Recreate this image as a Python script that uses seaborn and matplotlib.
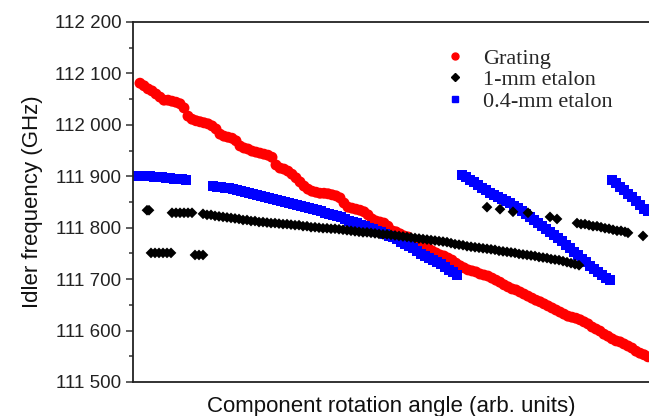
import numpy as np
import pandas as pd
import matplotlib
matplotlib.use("Agg")
import matplotlib.pyplot as plt
from matplotlib.lines import Line2D
from matplotlib.ticker import MultipleLocator, FuncFormatter
import seaborn as sns

# --- data (x: rotation angle, arb. units; y: GHz) ---
# grating: one dense scan, 4-unit steps starting at 7
grating_x = np.arange(7, 516, 4)
grating_y = [112081, 112076, 112070, 112066, 112060, 112054, 112048, 112048,
             112046, 112044, 112041, 112033, 112017, 112011, 112008, 112006,
             112004, 112002, 111998, 111992, 111982, 111978, 111976, 111974,
             111969, 111959, 111955, 111953, 111949, 111947, 111945, 111943,
             111941, 111937, 111922, 111916, 111914, 111910, 111904, 111897,
             111889, 111881, 111875, 111871, 111869, 111867, 111867, 111866,
             111864, 111862, 111858, 111848, 111840, 111838, 111836, 111834,
             111831, 111825, 111817, 111813, 111811, 111809, 111803, 111794,
             111792, 111788, 111784, 111782, 111776, 111772, 111766, 111764,
             111761, 111755, 111751, 111747, 111745, 111741, 111737, 111731,
             111726, 111722, 111718, 111716, 111714, 111710, 111708, 111706,
             111702, 111698, 111694, 111689, 111685, 111681, 111679, 111675,
             111671, 111667, 111663, 111659, 111656, 111652, 111648, 111644,
             111640, 111636, 111632, 111628, 111626, 111624, 111621, 111617,
             111613, 111607, 111603, 111599, 111593, 111589, 111584, 111580,
             111578, 111574, 111570, 111566, 111560, 111556, 111553, 111549]

# 0.4-mm etalon: four mode-hop segments
etalon04_x1 = np.arange(1, 56, 4)
etalon04_y1 = [111901, 111901, 111901, 111901, 111901, 111899, 111899,
               111899, 111897, 111897, 111895, 111895, 111895, 111893]
etalon04_x2 = np.arange(80, 328, 4)
etalon04_y2 = [111881, 111879, 111879, 111877, 111877, 111875, 111873, 111871,
               111869, 111868, 111866, 111864, 111862, 111860, 111858, 111856,
               111854, 111852, 111850, 111848, 111846, 111844, 111842, 111840,
               111838, 111836, 111834, 111833, 111829, 111827, 111825, 111823,
               111821, 111817, 111813, 111811, 111809, 111805, 111803, 111799,
               111798, 111794, 111792, 111788, 111784, 111782, 111778, 111772,
               111768, 111764, 111761, 111755, 111749, 111745, 111741, 111737,
               111733, 111729, 111724, 111718, 111714, 111708]
etalon04_x3 = np.arange(329, 481, 4)
etalon04_y3 = [111903, 111899, 111893, 111889, 111883, 111877, 111873, 111868,
               111864, 111860, 111856, 111852, 111848, 111842, 111838, 111833,
               111827, 111821, 111815, 111809, 111803, 111798, 111792, 111786,
               111780, 111774, 111766, 111761, 111753, 111747, 111739, 111733,
               111726, 111720, 111714, 111708, 111702, 111698]
etalon04_x4 = np.arange(479, 516, 4)
etalon04_y4 = [111893, 111887, 111879, 111873, 111866, 111860, 111852,
               111844, 111836, 111832]

# 1-mm etalon: scattered early points, main scan, late points
etalon1_x_early = [14, 16, 39, 43, 47, 51, 55, 59, 18, 22, 26, 30, 34, 38,
                   62, 66, 70]
etalon1_y_early = [111834, 111834, 111829, 111829, 111829, 111829, 111829,
                   111829, 111751, 111751, 111751, 111751, 111751, 111751,
                   111747, 111747, 111747]
etalon1_x_main = np.arange(70, 447, 4)
etalon1_y_main = [111827, 111825, 111825, 111823, 111822, 111821, 111820, 111819,
                  111818, 111817, 111815, 111815, 111813, 111813, 111811, 111811,
                  111810, 111809, 111809, 111808, 111807, 111807, 111806, 111805,
                  111805, 111803, 111803, 111801, 111801, 111800, 111799, 111799,
                  111798, 111798, 111797, 111796, 111795, 111794, 111793, 111792,
                  111791, 111791, 111790, 111789, 111788, 111787, 111787, 111786,
                  111785, 111784, 111783, 111782, 111781, 111780, 111779, 111778,
                  111777, 111776, 111775, 111774, 111773, 111772, 111770, 111768,
                  111767, 111766, 111764, 111763, 111762, 111761, 111760, 111759,
                  111758, 111757, 111755, 111754, 111753, 111752, 111751, 111749,
                  111748, 111747, 111746, 111745, 111743, 111742, 111741, 111739,
                  111738, 111737, 111735, 111733, 111731, 111729, 111727]
etalon1_x_late = [354, 367, 380, 395, 417, 424,
                  444, 448, 452, 456, 460, 464, 468, 472, 476, 480, 484, 488,
                  492, 495, 510]
etalon1_y_late = [111840, 111836, 111831, 111829, 111821, 111817,
                  111809, 111807, 111807, 111805, 111803, 111803, 111801, 111799,
                  111798, 111796, 111794, 111794, 111792, 111790, 111784]

grating = pd.DataFrame({"angle": grating_x, "freq": grating_y})
etalon04 = pd.DataFrame({
    "angle": np.concatenate([etalon04_x1, etalon04_x2, etalon04_x3, etalon04_x4]),
    "freq": etalon04_y1 + etalon04_y2 + etalon04_y3 + etalon04_y4})
etalon1 = pd.DataFrame({
    "angle": np.concatenate([etalon1_x_early, etalon1_x_main, etalon1_x_late]),
    "freq": etalon1_y_early + etalon1_y_main + etalon1_y_late})

sns.set_style("ticks")
plt.rcParams["font.family"] = ["Liberation Sans", "DejaVu Sans"]

fig = plt.figure(figsize=(6.49, 4.16), dpi=100)
ax = fig.add_axes([133 / 649, 34 / 416, 516 / 649, 360 / 416])

sns.scatterplot(data=grating, x="angle", y="freq", ax=ax, color="#ff0000",
                marker="o", s=62, edgecolor="none", linewidth=0)
sns.scatterplot(data=etalon04, x="angle", y="freq", ax=ax, color="#0000ff",
                marker="s", s=50, edgecolor="none", linewidth=0)
sns.scatterplot(data=etalon1, x="angle", y="freq", ax=ax, color="black",
                marker="D", s=30, edgecolor="none", linewidth=0)

ax.set_xlim(0, 516)
ax.set_ylim(111500, 112200)
ax.set_xticks([])
ax.yaxis.set_major_locator(MultipleLocator(100))
ax.yaxis.set_minor_locator(MultipleLocator(50))
ax.yaxis.set_major_formatter(FuncFormatter(lambda v, p: f"{int(v):,}".replace(",", " ")))
ax.tick_params(axis="y", which="major", length=5, width=1.1, labelsize=13.5,
               color="#333333", labelcolor="#222222")
ax.tick_params(axis="y", which="minor", length=3, width=1.1, color="#333333")
for side in ["left", "bottom", "top"]:
    ax.spines[side].set_linewidth(1.3)
    ax.spines[side].set_color("#222222")
ax.spines["right"].set_visible(False)

ax.set_xlabel("Component rotation angle (arb. units)", fontsize=16, color="#111111",
              labelpad=10)
ax.set_ylabel("Idler frequency (GHz)", fontsize=16, color="#111111", labelpad=8)

handles = [
    Line2D([], [], marker="o", color="#ff0000", linestyle="none", markersize=5),
    Line2D([], [], marker="D", color="black", linestyle="none", markersize=4.5),
    Line2D([], [], marker="s", color="#0000ff", linestyle="none", markersize=4.5),
]
ax.legend(handles, ["Grating", "1-mm etalon", "0.4-mm etalon"],
          loc="upper left", bbox_to_anchor=(444 / 649, 1 - 48 / 416),
          bbox_transform=fig.transFigure, frameon=False, borderpad=0,
          borderaxespad=0, handlelength=1.0, handletextpad=0.75,
          labelspacing=0.05, prop={"family": "Liberation Serif", "size": 16})

fig.savefig("out.png", dpi=100)
